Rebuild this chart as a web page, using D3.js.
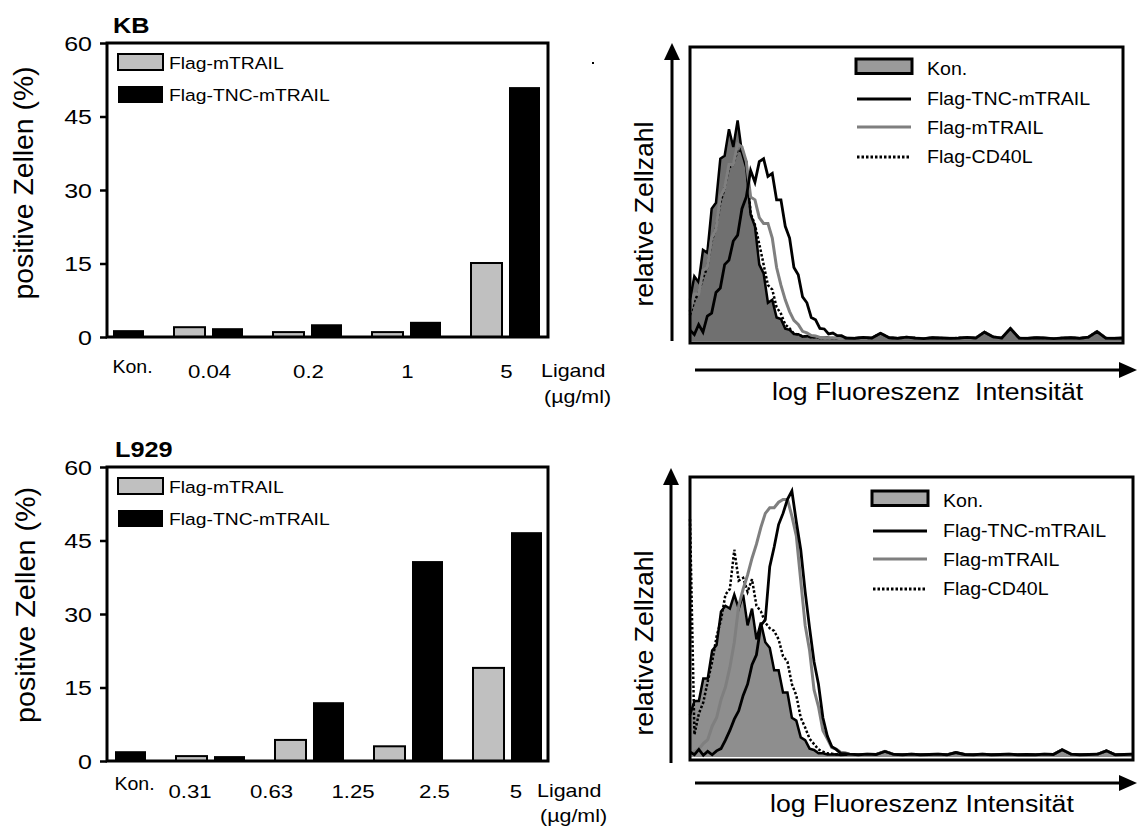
<!DOCTYPE html>
<html>
<head>
<meta charset="utf-8">
<script src="https://cdn.jsdelivr.net/npm/d3@7"></script>
<style>
  body { margin: 0; background: #fff; }
  svg { display: block; font-family: "Liberation Sans", Arial, Helvetica, sans-serif; }
</style>
</head>
<body>
<svg id="fig" width="1137" height="827"></svg>
<script>
// ---- bar charts (positive Zellen %) ----
const yTicks = [0, 15, 30, 45, 60];

const kbLabels = ["Kon.", "0.04", "0.2", "1", "5"];
const kbMtrail = [null, 2.0, 1.0, 1.0, 15.1];
const kbTnc = [1.4, 1.8, 2.6, 3.1, 51.0];

const l929Labels = ["Kon.", "0.31", "0.63", "1.25", "2.5", "5"];
const l929Mtrail = [null, 1.0, 4.3, 3.0, 19.0];
const l929Tnc = [2.0, 1.0, 12.0, 40.8, 46.7];

const barLegend = ["Flag-mTRAIL", "Flag-TNC-mTRAIL"];

// ---- histograms (relative Zellzahl vs. log fluorescence channel) ----
const channel = [0, 1, 2, 3, 4, 5, 6, 7, 8, 9, 10, 11, 12, 13, 14, 15, 16, 17, 18, 19,
  20, 21, 22, 23, 24, 25, 26, 27, 28, 29, 30, 31, 32, 33, 34, 35,
  36, 38, 40, 42, 44, 46, 48, 50, 52, 54, 56, 58, 60, 62, 64, 66, 68, 70,
  72, 74, 76, 78, 80, 82, 84, 86, 88, 90, 92, 94, 96, 98, 100];

const tailTop = [1.0, 0.9, 1.2, 1.0, 2.6, 1.1, 0.9, 1.3, 1.0, 0.8, 1.1, 1.0, 0.9, 1.0, 1.2, 1.0, 3.0,
  1.4, 1.0, 4.2, 1.0, 0.9, 1.1, 1.0, 0.8, 1.0, 1.1, 0.9, 1.3, 3.2, 1.0, 0.9, 1.0];
const tailBot = [1.0, 0.8, 1.0, 0.9, 2.0, 0.9, 0.8, 1.0, 0.8, 0.9, 1.0, 0.8, 1.6, 0.9, 0.8, 1.0, 0.8,
  0.9, 1.0, 0.8, 0.9, 0.8, 1.0, 0.9, 2.6, 1.0, 0.8, 0.9, 1.0, 2.2, 0.8, 0.9, 1.0];

const kbKon = [14, 22, 20, 31, 30, 45, 47, 62, 63, 72, 66, 75, 64, 59, 43, 39, 26, 23, 13, 14,
  8, 7.5, 4.2, 3.8, 2.4, 2.3, 1.5, 1.7, 1.3, 1.4, 1.0, 1.2, 1.1, 0.9, 1.1, 0.8].concat(tailTop);
const kbTncH = [3.7, 2.2, 5.6, 3.0, 8.5, 9.5, 16.5, 18, 26, 27.5, 34, 36, 45, 49, 58, 54, 61, 62, 56, 57,
  48, 48, 39, 35, 25, 22.5, 15, 13, 8, 7.2, 4.3, 4.1, 2.4, 2.7, 1.8, 1.8].concat(tailTop);
const kbMtrailH = [10, 16, 16, 24, 25, 35, 38, 49, 52, 60, 60, 67, 66, 61, 49, 48, 42, 40, 40, 35,
  25, 19, 14, 10, 7, 5.6, 3.3, 2.8, 1.9, 1.7, 1.2, 1.2, 0.9, 1.1, 0.9, 0.8].concat(tailTop);
const kbCd40l = [8.8, 13.5, 16.5, 21.5, 25, 34, 38.5, 47, 52, 59, 60, 65, 64.5, 61, 43.5, 39.5, 33, 26, 19, 17.5,
  11.5, 9.3, 5.6, 4.3, 2.5, 2.2, 1.6, 1.6, 1.2, 1.3, 1.0, 1.1, 0.9, 1.0, 0.8, 0.8].concat(tailTop);

const lKon = [15, 20, 20, 28, 28, 38, 40, 52, 54, 53, 58, 53, 58, 47, 53, 42, 48, 41, 39, 31,
  31, 23, 23, 14, 13, 7, 6, 3, 2.5, 1.3, 1.3, 0.9, 0.9, 1.0, 0.7, 0.8].concat(tailBot);
const lTncH = [1.8, 0.8, 2.7, 0.6, 2.0, 0.8, 2.2, 3.0, 6.0, 9.5, 13.5, 16.5, 22, 26, 33, 36.5, 47, 49, 68, 75,
  83, 87, 92, 95, 84, 74, 59, 46, 34, 26, 14, 7.5, 3.7, 2.7, 1.3, 1.2].concat(tailBot);
const lMtrailH = [0.7, 2.0, 2.8, 4.8, 6.2, 11, 14, 20.5, 25, 32, 41, 54, 60, 65, 71, 76, 82, 87, 89, 89,
  91, 92, 92, 86, 79, 63, 47, 38, 24, 18, 9.5, 6.5, 3.4, 2.8, 1.7, 1.5].concat(tailBot);
const lCd40l = [85, 8, 15.5, 19.5, 27, 34, 43, 49, 58, 60, 74, 63, 64, 59, 63.5, 54, 52, 48, 46, 45,
  42, 36, 34, 26, 22, 14, 10.5, 6.5, 4.6, 2.7, 1.9, 1.3, 1.2, 0.9, 1.0, 0.8].concat(tailBot);

const histLegend = ["Kon.", "Flag-TNC-mTRAIL", "Flag-mTRAIL", "Flag-CD40L"];

const svg = d3.select("#fig");

// text with the slight horizontal stretch of the original figure
function txt(g, x, y, s, size, sx, anchor, weight) {
  return g.append("text")
    .attr("transform", `translate(${x},${y}) scale(${sx},1)`)
    .attr("font-size", size)
    .attr("text-anchor", anchor || "start")
    .attr("font-weight", weight || "normal")
    .style("white-space", "pre")
    .text(s);
}

function vtxt(g, x, y, s, size, len) {
  return g.append("text")
    .attr("transform", `translate(${x},${y}) rotate(-90)`)
    .attr("font-size", size)
    .attr("text-anchor", "middle")
    .attr("textLength", len)
    .attr("lengthAdjust", "spacingAndGlyphs")
    .text(s);
}

function barChart(c) {
  const g = svg.append("g");
  const left = 107, right = 548, top = c.top, bottom = c.top + 294;
  const y = d3.scaleLinear().domain([0, 60]).range([bottom, top]);
  const groups = d3.range(c.tnc.length);
  const x = d3.scaleBand().domain(groups).range([c.bandStart, c.bandStart + 99 * groups.length]);
  const sub = d3.scaleBand().domain(["mtrail", "tnc"]).range([0, 69]).paddingInner(0.184);

  const bars = [];
  groups.forEach(i => {
    if (c.mtrail[i] != null) bars.push({ i, key: "mtrail", v: c.mtrail[i] });
    bars.push({ i, key: "tnc", v: c.tnc[i] });
  });

  g.selectAll("rect.bar").data(bars).join("rect")
    .attr("class", "bar")
    .attr("x", d => x(d.i) + sub(d.key))
    .attr("width", sub.bandwidth())
    .attr("y", d => y(d.v))
    .attr("height", d => y(0) - y(d.v))
    .attr("fill", d => d.key === "mtrail" ? "#c0c0c0" : "#000")
    .attr("stroke", "#000")
    .attr("stroke-width", d => d.key === "mtrail" ? 2 : 0);

  // frame
  g.append("rect").attr("x", left).attr("y", top)
    .attr("width", right - left).attr("height", bottom - top)
    .attr("fill", "none").attr("stroke", "#000").attr("stroke-width", 3);

  const ax = g.append("g").attr("transform", `translate(${left},0)`)
    .call(d3.axisLeft(y).tickValues(yTicks).tickSize(7).tickPadding(0));
  ax.select(".domain").remove();
  ax.selectAll(".tick line").attr("stroke", "#000").attr("stroke-width", 2.5);
  ax.selectAll(".tick text")
    .attr("x", -12).attr("dy", "0.36em")
    .attr("transform", "scale(1.25,1)")
    .attr("fill", "#000").attr("font-size", 20)
    .attr("font-family", "Liberation Sans, Arial, sans-serif");

  // legend
  g.append("rect").attr("x", 118).attr("y", top + 11).attr("width", 45).attr("height", 16)
    .attr("fill", "#c0c0c0").attr("stroke", "#000").attr("stroke-width", 2);
  g.append("rect").attr("x", 118).attr("y", top + 43).attr("width", 45).attr("height", 17)
    .attr("fill", "#000");
  txt(g, 169, top + 26, barLegend[0], 16.5, 1.17);
  txt(g, 169, top + 58, barLegend[1], 16.5, 1.17);

  txt(g, c.titleX, top - 10.5, c.title, 22, 1.15, "start", "bold");
  vtxt(g, c.ylabX, c.ylabY, "positive Zellen (%)", 27, c.ylabLen);

  // category labels
  const konX = x(0) + sub("tnc") + sub.bandwidth() / 2 + 4;
  txt(g, konX, c.konBase, c.labels[0], 19, 1.03, "middle");
  c.labelX.forEach((lx, k) => txt(g, lx, c.numBase, c.labels[k + 1], 19, 1.17, "middle"));
  txt(g, c.ligX, c.ligBase, "Ligand", 18.5, 1.16);
  txt(g, c.ligX + 3, c.unitBase, "(\u00b5g/ml)", 18.5, 1.16);
  return { x, sub };
}

// KB: labels sit over each dose pair
const kbBand = d3.scaleBand().domain(d3.range(kbLabels.length)).range([75, 75 + 99 * kbLabels.length]);
barChart({
  top: 43, bandStart: 75, title: "KB", titleX: 113,
  mtrail: kbMtrail, tnc: kbTnc, labels: kbLabels,
  labelX: kbLabels.slice(1).map((d, k) => kbBand(k + 1) + 34.5 + 1),
  konBase: 373, numBase: 378, ligX: 541, ligBase: 377, unitBase: 403,
  ylabX: 33, ylabY: 183, ylabLen: 233
});

// L929: dose labels are evenly spread and do not line up with the pairs
const l929Pt = d3.scalePoint().domain(l929Labels.slice(1)).range([190, 516]);
barChart({
  top: 467, bandStart: 77, title: "L929", titleX: 115,
  mtrail: l929Mtrail, tnc: l929Tnc, labels: l929Labels,
  labelX: l929Labels.slice(1).map(d => l929Pt(d)),
  konBase: 790, numBase: 798, ligX: 537, ligBase: 797, unitBase: 822,
  ylabX: 35, ylabY: 605, ylabLen: 236
});

// stray speck in the original scan
svg.append("rect").attr("x", 592).attr("y", 62).attr("width", 2).attr("height", 2).attr("fill", "#000");

function histo(c) {
  const g = svg.append("g");
  const x = d3.scaleLinear().domain([0, 100]).range([c.x0, c.x1]);
  const y = d3.scaleLinear().domain([0, 100]).range([c.base, c.y0]);
  const line = d3.line().x((d, i) => x(channel[i])).y(d => y(d));
  const area = d3.area().x((d, i) => x(channel[i])).y0(y(0)).y1(d => y(d));

  g.append("path").datum(c.kon).attr("d", area).attr("fill", c.fill);
  g.append("path").datum(c.kon).attr("d", line)
    .attr("fill", "none").attr("stroke", "#000").attr("stroke-width", 2.5);
  g.append("path").datum(c.cd40l).attr("d", line)
    .attr("fill", "none").attr("stroke", "#000").attr("stroke-width", 2.5)
    .attr("stroke-dasharray", "2.5,2");
  g.append("path").datum(c.mtrail).attr("d", line)
    .attr("fill", "none").attr("stroke", "#7f7f7f").attr("stroke-width", 3);
  g.append("path").datum(c.tnc).attr("d", line)
    .attr("fill", "none").attr("stroke", "#000").attr("stroke-width", 2.8);

  g.append("rect").attr("x", c.x0).attr("y", c.y0)
    .attr("width", c.x1 - c.x0).attr("height", c.y1 - c.y0)
    .attr("fill", "none").attr("stroke", "#000").attr("stroke-width", 3);

  // axis arrows
  g.append("line").attr("x1", c.ax).attr("x2", c.ax).attr("y1", c.ayBottom).attr("y2", c.ayTip + 14)
    .attr("stroke", "#000").attr("stroke-width", 3);
  g.append("path").attr("d", `M${c.ax},${c.ayTip}L${c.ax - 8},${c.ayTip + 17}L${c.ax + 8},${c.ayTip + 17}Z`)
    .attr("fill", "#000");
  g.append("line").attr("x1", 695).attr("x2", 1123).attr("y1", c.axY).attr("y2", c.axY)
    .attr("stroke", "#000").attr("stroke-width", 3);
  g.append("path").attr("d", `M1137,${c.axY}L1119,${c.axY - 8}L1119,${c.axY + 8}Z`).attr("fill", "#000");

  vtxt(g, 653, c.ylabY, "relative Zellzahl", 25, 185);
  txt(g, c.xlabX, c.xlabBase, c.xlab, 23, 1.16);

  // legend
  const lx = c.legX, ly = c.legY;
  g.append("rect").attr("x", lx).attr("y", ly).attr("width", 56).attr("height", 14.5)
    .attr("fill", c.legFill).attr("stroke", "#000").attr("stroke-width", 3);
  const rows = [
    { dy: 40, stroke: "#000", dash: null },
    { dy: 68, stroke: "#7f7f7f", dash: null },
    { dy: 98, stroke: "#000", dash: "2.5,2" }
  ];
  rows.forEach(r => {
    g.append("line").attr("x1", lx + 1).attr("x2", lx + 55)
      .attr("y1", ly + r.dy).attr("y2", ly + r.dy)
      .attr("stroke", r.stroke).attr("stroke-width", 3)
      .attr("stroke-dasharray", r.dash);
  });
  const tx = lx + 71;
  txt(g, tx, ly + 16, histLegend[0], 17.5, 1.12);
  txt(g, tx, ly + 46, histLegend[1], 17.5, 1.12);
  txt(g, tx, ly + 75, histLegend[2], 17.5, 1.12);
  txt(g, tx, ly + 104, histLegend[3], 17.5, 1.12);
}

histo({
  x0: 690, x1: 1123, y0: 47, y1: 343, base: 341,
  kon: kbKon, tnc: kbTncH, mtrail: kbMtrailH, cd40l: kbCd40l,
  fill: "#707070", legFill: "#9a9a9a", legX: 856, legY: 59,
  ax: 672, ayBottom: 341, ayTip: 43, axY: 370,
  ylabY: 214, xlab: "log Fluoreszenz  Intensit\u00e4t", xlabX: 772, xlabBase: 400
});

histo({
  x0: 690, x1: 1133, y0: 477, y1: 760, base: 757,
  kon: lKon, tnc: lTncH, mtrail: lMtrailH, cd40l: lCd40l,
  fill: "#8e8e8e", legFill: "#a8a8a8", legX: 872, legY: 491,
  ax: 671, ayBottom: 763, ayTip: 468, axY: 783,
  ylabY: 643, xlab: "log Fluoreszenz Intensit\u00e4t", xlabX: 770, xlabBase: 812
});
</script>
</body>
</html>
